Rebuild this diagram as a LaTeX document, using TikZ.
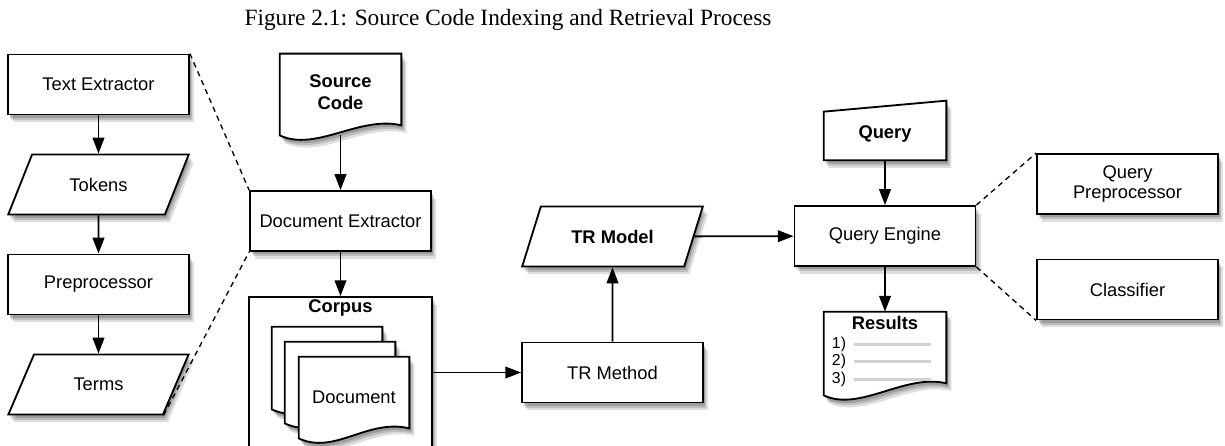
\documentclass[tikz,border=0pt]{standalone}
\usepackage{fontspec}
\setmainfont{Liberation Sans}
\newfontfamily\capfont{Liberation Serif}
\usetikzlibrary{shapes.geometric, arrows.meta}

% outline of a sheet with a wavy lower edge, round an empty node
\newcommand{\sheet}[2]{%
  \draw[sheetline] (#1.south west) -- (#1.north west) -- (#1.north east)
    -- ([yshift=#2]#1.south east) .. controls +(-42,-10) and +(36,17) .. (#1.south west) -- cycle;}

\begin{document}
\begin{tikzpicture}[x=0.6pt, y=-0.6pt, font=\fontsize{11}{13}\selectfont]
            \tikzstyle{softshadow}=[preaction={fill=black, opacity=0.17, transform canvas={xshift=1pt, yshift=-2pt}},
                                    preaction={fill=black, opacity=0.15, transform canvas={xshift=2pt, yshift=-3.2pt}},
                                    preaction={fill=black, opacity=0.13, transform canvas={xshift=3pt, yshift=-4.6pt}}]
            \tikzstyle{box}=[draw, line width=1.1pt, fill=white, softshadow, minimum width=108.6pt, minimum height=36pt, inner sep=2pt, align=center]
            \tikzstyle{datapar}=[box, trapezium, trapezium left angle=60, trapezium right angle=120, trapezium stretches=true]
            \tikzstyle{paper}=[inner sep=0pt]
            \tikzstyle{sheetline}=[draw, line width=1.1pt, fill=white, softshadow]
            \tikzstyle{flow}=[line width=1.1pt, -{Triangle[length=9.5pt, width=7pt]}]
            \tikzstyle{zoomline}=[line width=0.8pt, dash pattern=on 3.2pt off 2.6pt]
            \useasboundingbox (0,0) rectangle (1225,446);
            \clip (0,0) rectangle (1225,446);
            \node (title) at (508,20) {\capfont\fontsize{14}{16}\selectfont Figure 2.1: Source Code Indexing and Retrieval Process};
            % text extraction chain
            \node[box] (te) at (98.5,84.5) {Text Extractor};
            \node[datapar] (tok) at (98.5,184.5) {Tokens};
            \node[box] (pre) at (98.5,284.5) {Preprocessor};
            \node[datapar] (terms) at (98.5,384.5) {Terms};
            \draw[flow] (te) -- (tok);
            \draw[flow] (tok) -- (pre);
            \draw[flow] (pre) -- (terms);
            % source code and corpus
            \node[paper, minimum width=72.6pt, minimum height=48.6pt] (src) at (340.5,94.5) {};
            \sheet{src}{6pt}
            \node[font=\fontsize{11}{13}\selectfont\bfseries, align=center] (srctext) at (340.5,92) {Source\\Code};
            \node[box] (docex) at (340.5,221) {Document Extractor};
            \node[box, minimum width=109.8pt, minimum height=90.6pt] (corpus) at (340.5,372.5) {};
            \node[font=\fontsize{11}{13}\selectfont\bfseries] (corpustext) at (340.5,308) {Corpus};
            \node[paper, minimum width=66pt, minimum height=49.2pt] (doca) at (327,368) {};
            \sheet{doca}{6pt}
            \node[paper, minimum width=66pt, minimum height=48.6pt] (docb) at (340,382.5) {};
            \sheet{docb}{6pt}
            \node[paper, minimum width=66pt, minimum height=48.6pt] (docc) at (354,397.5) {};
            \sheet{docc}{6pt}
            \node (doctext) at (354,397) {Document};
            \draw[flow] (src) -- (docex);
            \draw[flow] (docex) -- (corpus);
            \draw[zoomline] (te.north east) -- (docex.north west);
            \draw[zoomline] (terms.bottom right corner) -- (docex.south west);
            % retrieval model
            \node[box] (trm) at (612.5,372.5) {TR Method};
            \node[datapar, font=\fontsize{11}{13}\selectfont\bfseries] (trmod) at (612.5,236.5) {TR Model};
            \draw[flow] (corpus) -- (trm);
            \draw[flow] (trm) -- (trmod);
            % query side
            \node[paper, minimum width=73.2pt, minimum height=28.8pt] (query) at (885,136) {};
            \draw[sheetline] (query.south west) -- (query.north west) -- ([yshift=6.6pt]query.north east) -- (query.south east) -- cycle;
            \node[font=\fontsize{11}{13}\selectfont\bfseries] (querytext) at (885,134) {Query};
            \node[box] (qe) at (885,236) {Query Engine};
            \node[paper, minimum width=73.2pt, minimum height=49.8pt] (res) at (885,353.5) {};
            \sheet{res}{7.2pt}
            \node[font=\fontsize{11}{13}\selectfont\bfseries] (restext) at (885,323) {Results};
            \foreach \i/\y in {1/344, 2/361.5, 3/379} {
                \node[font=\fontsize{9.5}{11}\selectfont] (item\i) at (839,\y) {\i)};
                \draw[black!18, line width=1.8pt] (854,\y) -- (931,\y);
            }
            \node[box] (qp) at (1127.5,184) {Query\\[-1pt]Preprocessor};
            \node[box] (cls) at (1127.5,289.5) {Classifier};
            \draw[flow] (trmod) -- (qe);
            \draw[flow] (query) -- (qe);
            \draw[flow] (qe) -- (res);
            \draw[zoomline] (qe.north east) -- (qp.north west);
            \draw[zoomline] (qe.south east) -- (cls.south west);
\end{tikzpicture}
\end{document}
